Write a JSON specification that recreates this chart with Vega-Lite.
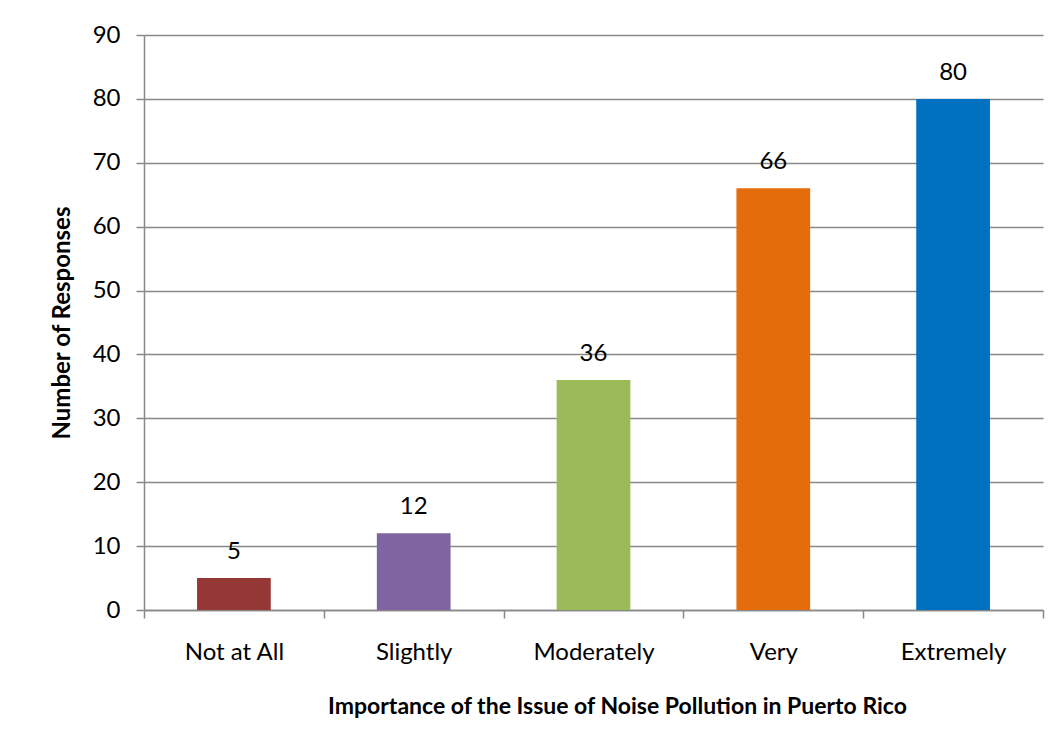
{
  "$schema": "https://vega.github.io/schema/vega-lite/v6.json",
  "width": 899,
  "height": 575,
  "autosize": "none",
  "padding": {"left": 144, "top": 35, "right": 20, "bottom": 141},
  "background": "white",
  "config": {
    "font": "Lato",
    "view": {"stroke": null}
  },
  "data": {
    "values": [
      {"category": "Not at All", "responses": 5},
      {"category": "Slightly", "responses": 12},
      {"category": "Moderately", "responses": 36},
      {"category": "Very", "responses": 66},
      {"category": "Extremely", "responses": 80}
    ]
  },
  "encoding": {
    "x": {
      "field": "category",
      "type": "nominal",
      "sort": null,
      "scale": {"paddingInner": 0, "paddingOuter": 0},
      "axis": {
        "title": "Importance of the Issue of Noise Pollution in Puerto Rico",
        "titleFontSize": 23,
        "titleFontWeight": "bold",
        "titleColor": "black",
        "titleX": 473,
        "titleY": 96,
        "titleBaseline": "middle",
        "labelAngle": 0,
        "labelFontSize": 24,
        "labelColor": "black",
        "labelPadding": 22,
        "tickBand": "extent",
        "tickSize": 8,
        "tickColor": "#888888",
        "tickWidth": 1.5,
        "domainColor": "#888888",
        "domainWidth": 1.5,
        "grid": false
      }
    },
    "y": {
      "field": "responses",
      "type": "quantitative",
      "scale": {"domain": [0, 90], "nice": false},
      "axis": {
        "title": "Number of Responses",
        "titleFontSize": 24,
        "titleFontWeight": "bold",
        "titleColor": "black",
        "titleX": -82,
        "titleY": 287.5,
        "titleBaseline": "middle",
        "values": [0, 10, 20, 30, 40, 50, 60, 70, 80, 90],
        "labelFontSize": 24,
        "labelColor": "black",
        "labelPadding": 16,
        "tickSize": 8,
        "tickColor": "#888888",
        "tickWidth": 1.5,
        "domainColor": "#888888",
        "domainWidth": 1.5,
        "grid": true,
        "gridColor": "#888888",
        "gridWidth": 1.5
      }
    }
  },
  "layer": [
    {
      "mark": {"type": "bar", "width": {"band": 0.41}},
      "encoding": {
        "color": {
          "field": "category",
          "type": "nominal",
          "sort": null,
          "scale": {
            "domain": ["Not at All", "Slightly", "Moderately", "Very", "Extremely"],
            "range": ["#953735", "#8064A2", "#9BBB59", "#E46C0A", "#0070C0"]
          },
          "legend": null
        }
      }
    },
    {
      "mark": {"type": "text", "baseline": "alphabetic", "dy": -19, "fontSize": 24, "color": "black"},
      "encoding": {
        "text": {"field": "responses", "type": "quantitative"}
      }
    }
  ]
}
